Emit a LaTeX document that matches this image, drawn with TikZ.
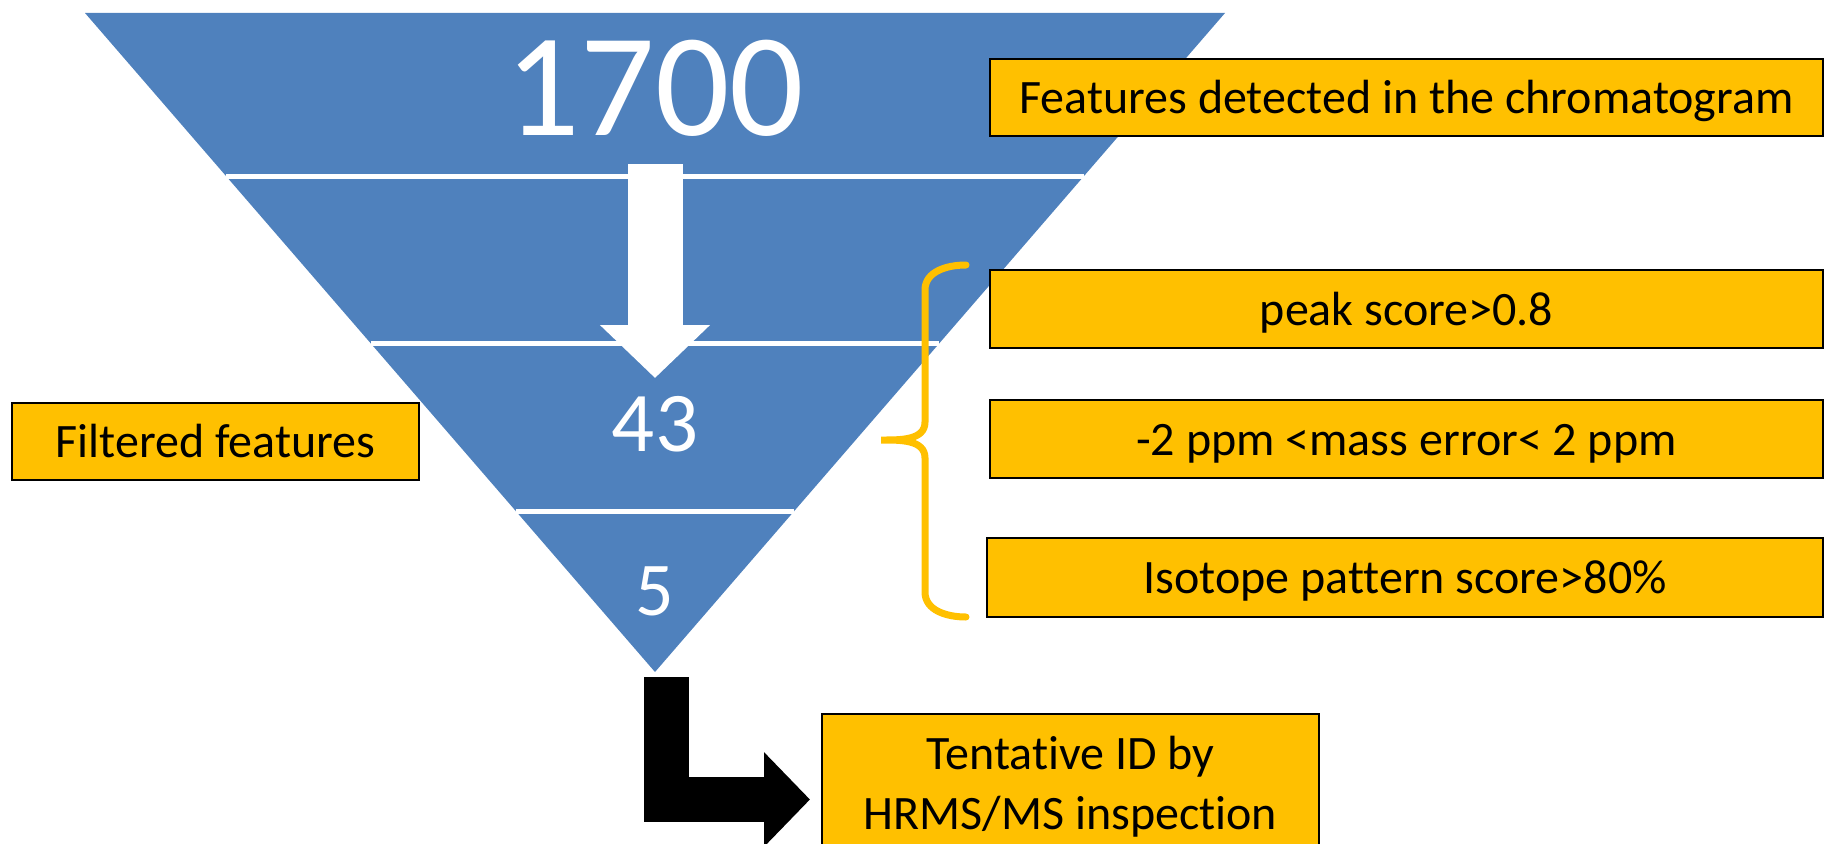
\documentclass[tikz,border=0pt]{standalone}
\usepackage{fontspec}
\setmainfont{Carlito}[Ligatures=NoCommon]
\usetikzlibrary{calc,arrows.meta}
\begin{document}
\begin{tikzpicture}[x=1pt,y=-1pt,
  goldbox/.style={draw=black, line width=2pt, fill=FunnelGold, inner sep=0pt, font=\fontsize{48}{60}\selectfont},
  boxrow/.style={text height=32pt, text depth=0pt},
  funnum/.style={text=white, inner sep=0pt}]
\definecolor{FunnelBlue}{HTML}{4F81BD}
\definecolor{FunnelGold}{HTML}{FFC000}
\useasboundingbox (0,0) rectangle (1825,843);
\coordinate (ftl) at (85,13);
\coordinate (ftr) at (1225,13);
\coordinate (ftip) at (655,672);
\fill[FunnelBlue] (ftl) -- (ftr) -- (ftip) -- cycle;
\foreach \t in {0.248,0.502,0.756}
  \draw[white, line width=5pt] ($(ftl)!\t!(ftip)$) -- ($(ftr)!\t!(ftip)$);
\node[funnum, font=\fontsize{147}{160}\selectfont] (n1700) at (655,88.5) {1700};
\node[funnum, font=\fontsize{85}{95}\selectfont] (n43) at (655,424) {43};
\node[funnum, font=\fontsize{76}{85}\selectfont] (n5) at (655,591) {5};
\coordinate (wtop) at (655,164);
\coordinate (wend) at (655,378);
\draw[white, line width=55pt, -{Triangle[length=53pt 0 0, width=107pt 0 0]}] (wtop) -- (wend);
\node[goldbox, boxrow, minimum width=833pt, minimum height=77pt] (detected) at (1406.5,97.5) {Features detected in the chromatogram};
\node[goldbox, boxrow, minimum width=833pt, minimum height=78pt] (peak) at (1406.5,309) {peak score>0.8};
\node[goldbox, boxrow, minimum width=833pt, minimum height=78pt] (masserr) at (1406.5,439) {-2 ppm <mass error< 2 ppm};
\node[goldbox, boxrow, minimum width=836pt, minimum height=79pt] (isotope) at (1405,577.5) {Isotope pattern score>80\%};
\node[goldbox, boxrow, minimum width=407pt, minimum height=77pt] (filtered) at (215.5,441.5) {Filtered features};
\node[goldbox, align=center, minimum width=497pt, minimum height=147pt] (tentative) at (1070.5,787) {Tentative ID by\\HRMS/MS inspection};
\draw[FunnelGold, line width=7pt, line cap=round] (966,265) to[out=180,in=90] (925,290) -- (925,422)
  to[out=-90,in=0] (881,440) to[out=0,in=90] (925,458) -- (925,592) to[out=-90,in=180] (966,617);
\coordinate (lstart) at (666.5,677);
\coordinate (lend) at (810,799.5);
\draw[black, line width=45pt, line join=miter, -{Triangle[length=46pt 0 0, width=92pt 0 0]}] (lstart) |- (lend);
\end{tikzpicture}
\end{document}
